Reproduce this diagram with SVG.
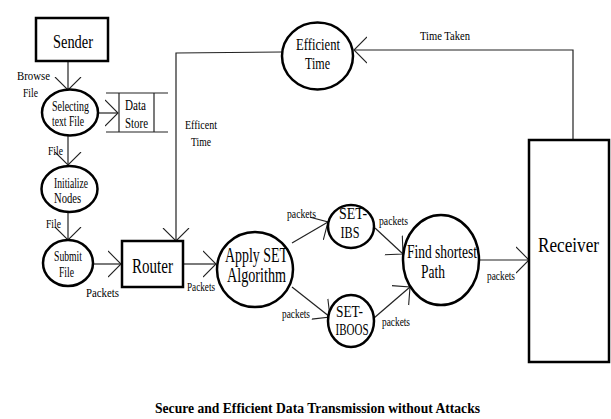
<svg xmlns="http://www.w3.org/2000/svg" width="611" height="419" viewBox="0 0 611 419">
<defs>
<style>
.n{fill:#fff;stroke:#000;stroke-width:2.5}
.c{fill:none;stroke:#222;stroke-width:1.2}
.t{font-family:"Liberation Serif","Times New Roman",serif;fill:#000;text-anchor:middle}
.l{font-family:"Liberation Serif","Times New Roman",serif;fill:#000;font-size:13px}
.s{font-size:12px}
</style>
<marker id="a" viewBox="0 0 14 28" refX="13" refY="14" markerWidth="14" markerHeight="28" markerUnits="userSpaceOnUse" orient="auto">
<path d="M0,1 L13,14 L0,27" fill="none" stroke="#222" stroke-width="1.1"/>
</marker>
</defs>
<rect width="611" height="419" fill="#fff"/>
<g id="connectors">
<line class="c" x1="68" y1="61" x2="68" y2="90" marker-end="url(#a)"/>
<line class="c" x1="98" y1="113" x2="118" y2="113" marker-end="url(#a)"/>
<line class="c" x1="68" y1="136" x2="68" y2="165" marker-end="url(#a)"/>
<line class="c" x1="68" y1="212" x2="68" y2="240" marker-end="url(#a)"/>
<line class="c" x1="93" y1="264" x2="121" y2="264" marker-end="url(#a)"/>
<line class="c" x1="184" y1="264" x2="216" y2="264" marker-end="url(#a)"/>
<polyline class="c" points="282,52 176,53 176,241" marker-end="url(#a)"/>
<polyline class="c" points="573,139 573,50 354,50" marker-end="url(#a)"/>
<line class="c" x1="292" y1="243" x2="328" y2="222" marker-end="url(#a)"/>
<line class="c" x1="292" y1="287" x2="330" y2="317" marker-end="url(#a)"/>
<line class="c" x1="375" y1="228" x2="403" y2="254" marker-end="url(#a)"/>
<line class="c" x1="374" y1="318" x2="410" y2="287" marker-end="url(#a)"/>
<line class="c" x1="479" y1="260" x2="529" y2="260" marker-end="url(#a)"/>
<text class="l" x="17" y="80" textLength="33" lengthAdjust="spacingAndGlyphs">Browse</text>
<text class="l" x="23" y="97" textLength="15" lengthAdjust="spacingAndGlyphs">File</text>
<text class="l" x="48" y="155" textLength="15" lengthAdjust="spacingAndGlyphs">File</text>
<text class="l" x="46" y="228" textLength="15" lengthAdjust="spacingAndGlyphs">File</text>
<text class="l" x="86" y="297" textLength="33" lengthAdjust="spacingAndGlyphs">Packets</text>
<text class="l s" x="187" y="291" textLength="28" lengthAdjust="spacingAndGlyphs">Packets</text>
<text class="l" x="185" y="129" textLength="32" lengthAdjust="spacingAndGlyphs">Efficent</text>
<text class="l" x="191" y="146" textLength="20" lengthAdjust="spacingAndGlyphs">Time</text>
<text class="l s" x="420" y="40" textLength="50" lengthAdjust="spacingAndGlyphs">Time Taken</text>
<text class="l s" x="287" y="218" textLength="29" lengthAdjust="spacingAndGlyphs">packets</text>
<text class="l s" x="379" y="225" textLength="29" lengthAdjust="spacingAndGlyphs">packets</text>
<text class="l s" x="282" y="318" textLength="28" lengthAdjust="spacingAndGlyphs">packets</text>
<text class="l s" x="382" y="326" textLength="28" lengthAdjust="spacingAndGlyphs">packets</text>
<text class="l s" x="487" y="280" textLength="28" lengthAdjust="spacingAndGlyphs">packets</text>
</g>
<g id="sender">
<rect class="n" x="36" y="18" width="72" height="43"/>
<text class="t" x="73" y="48" font-size="19" textLength="40" lengthAdjust="spacingAndGlyphs">Sender</text>
</g>
<g id="selecting">
<ellipse class="n" cx="70" cy="112.5" rx="28" ry="23"/>
<text class="t" x="70.5" y="111" font-size="15" textLength="37" lengthAdjust="spacingAndGlyphs">Selecting</text>
<text class="t" x="68" y="126" font-size="15" textLength="32" lengthAdjust="spacingAndGlyphs">text File</text>
</g>
<g id="datastore">
<line class="c" x1="106" y1="93" x2="168" y2="93"/>
<line class="c" x1="106" y1="132" x2="168" y2="132"/>
<line class="c" x1="119" y1="93" x2="119" y2="132"/>
<line class="c" x1="154" y1="93" x2="154" y2="132"/>
<text class="t" x="135.5" y="110" font-size="15" textLength="21" lengthAdjust="spacingAndGlyphs">Data</text>
<text class="t" x="136.5" y="128" font-size="15" textLength="23" lengthAdjust="spacingAndGlyphs">Store</text>
</g>
<g id="initialize">
<ellipse class="n" cx="69.5" cy="189" rx="28" ry="23"/>
<text class="t" x="71" y="188" font-size="14" textLength="34" lengthAdjust="spacingAndGlyphs">Initialize</text>
<text class="t" x="67.5" y="203" font-size="14" textLength="27" lengthAdjust="spacingAndGlyphs">Nodes</text>
</g>
<g id="submit">
<ellipse class="n" cx="68" cy="263" rx="25" ry="23"/>
<text class="t" x="68" y="261" font-size="14" textLength="28" lengthAdjust="spacingAndGlyphs">Submit</text>
<text class="t" x="66.5" y="277" font-size="14" textLength="15" lengthAdjust="spacingAndGlyphs">File</text>
</g>
<g id="router">
<rect class="n" x="122" y="241" width="61" height="46"/>
<text class="t" x="152.5" y="273" font-size="20" textLength="41" lengthAdjust="spacingAndGlyphs">Router</text>
</g>
<g id="efficient">
<ellipse class="n" cx="317.5" cy="56" rx="35.5" ry="33.5"/>
<text class="t" x="318" y="50" font-size="17" textLength="44" lengthAdjust="spacingAndGlyphs">Efficient</text>
<text class="t" x="317.5" y="68.5" font-size="17" textLength="25" lengthAdjust="spacingAndGlyphs">Time</text>
</g>
<g id="apply">
<ellipse class="n" cx="255" cy="269.5" rx="38" ry="37.5"/>
<text class="t" x="256.5" y="262" font-size="20" textLength="63" lengthAdjust="spacingAndGlyphs">Apply SET</text>
<text class="t" x="256.5" y="282" font-size="20" textLength="59" lengthAdjust="spacingAndGlyphs">Algorithm</text>
</g>
<g id="setibs">
<ellipse class="n" cx="351" cy="226.5" rx="23" ry="21.5"/>
<text class="t" x="353" y="219" font-size="17" textLength="28" lengthAdjust="spacingAndGlyphs">SET-</text>
<text class="t" x="350" y="238" font-size="17" textLength="19" lengthAdjust="spacingAndGlyphs">IBS</text>
</g>
<g id="setiboos">
<ellipse class="n" cx="351" cy="321" rx="23" ry="26"/>
<text class="t" x="349.5" y="317" font-size="17" textLength="27" lengthAdjust="spacingAndGlyphs">SET-</text>
<text class="t" x="352" y="335" font-size="17" textLength="33" lengthAdjust="spacingAndGlyphs">IBOOS</text>
</g>
<g id="find">
<ellipse class="n" cx="441" cy="260" rx="38" ry="45"/>
<text class="t" x="442" y="258" font-size="18" textLength="70" lengthAdjust="spacingAndGlyphs">Find shortest</text>
<text class="t" x="433" y="278" font-size="18" textLength="24" lengthAdjust="spacingAndGlyphs">Path</text>
</g>
<g id="receiver">
<rect class="n" x="529" y="140" width="80" height="222"/>
<text class="t" x="568.5" y="252" font-size="20" textLength="61" lengthAdjust="spacingAndGlyphs">Receiver</text>
</g>
<text class="t" x="317.5" y="413" font-size="14" font-weight="bold" textLength="325" lengthAdjust="spacingAndGlyphs">Secure and Efficient Data Transmission without Attacks</text>
</svg>
